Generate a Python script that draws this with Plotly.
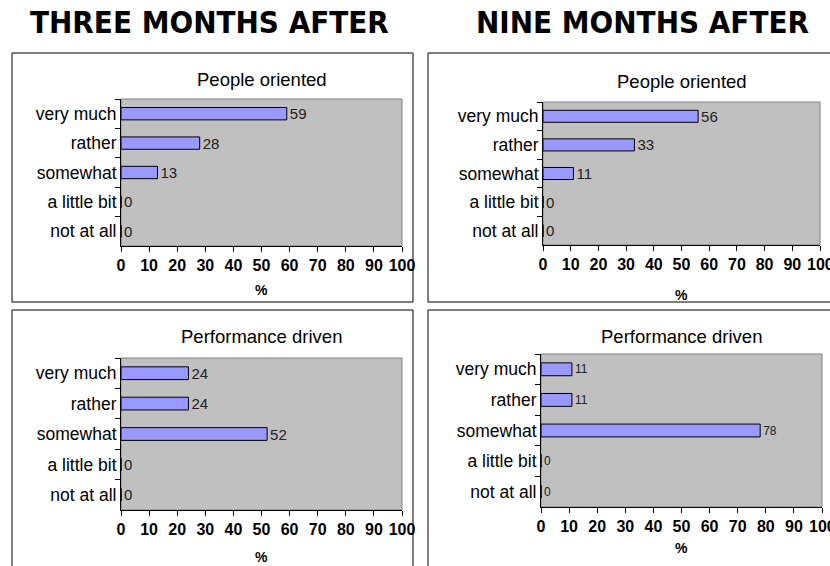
import plotly.graph_objects as go

W, H = 830, 566

categories = ["very much", "rather", "somewhat", "a little bit", "not at all"]
three_people = [59, 28, 13, 0, 0]
nine_people = [56, 33, 11, 0, 0]
three_perf = [24, 24, 52, 0, 0]
nine_perf = [11, 11, 78, 0, 0]
x_ticks = [0, 10, 20, 30, 40, 50, 60, 70, 80, 90, 100]
headings = ["THREE MONTHS AFTER", "NINE MONTHS AFTER"]
panel_titles = ["People oriented", "People oriented", "Performance driven", "Performance driven"]

FONT = "Liberation Sans, Arial, sans-serif"
HEAD_FONT = "DejaVu Sans Condensed, DejaVu Sans, sans-serif"

def px_x(v):
    return v / W

def px_y(v):
    return 1 - v / H

# plot areas in pixels: (x0, x1, ytop, ybottom)
areas = [
    (121, 402, 99, 246),
    (543, 820, 102, 245),
    (121, 402, 358, 510),
    (541, 822, 354, 507),
]
# panel boxes in pixels
boxes = [
    (12, 413, 53, 302),
    (428, 834, 53, 302),
    (12, 413, 310, 572),
    (428, 834, 310, 572),
]
title_y = [79, 81, 336, 336]
pct_y = [290, 295, 557, 548]
label_sizes = [15, 15, 15, 12]

series = [three_people, nine_people, three_perf, nine_perf]

fig = go.Figure()
layout = dict(
    width=W, height=H, autosize=False,
    margin=dict(l=0, r=0, t=0, b=0, pad=0, autoexpand=False),
    paper_bgcolor="white",
    plot_bgcolor="#C0C0C0",
    showlegend=False,
    bargap=0.58,
    font=dict(family=FONT, color="black"),
)
shapes = []
annotations = []

for i, vals in enumerate(series):
    n = i + 1
    xa = "x" if n == 1 else f"x{n}"
    ya = "y" if n == 1 else f"y{n}"
    fig.add_trace(go.Bar(
        x=vals, y=categories, orientation="h",
        xaxis=xa, yaxis=ya,
        marker=dict(color="#9999FF", line=dict(color="black", width=1)),
        text=[str(v) for v in vals], textposition="outside",
        constraintext="none",
        textfont=dict(family=FONT, size=label_sizes[i], color="#222222"),
        cliponaxis=False,
        hoverinfo="skip",
    ))
    x0, x1, yt, yb = areas[i]
    layout["xaxis" if n == 1 else f"xaxis{n}"] = dict(
        domain=[px_x(x0), px_x(x1)], anchor=ya, range=[0, 100],
        tickvals=x_ticks, ticks="outside", ticklen=5, tickcolor="black",
        showline=True, linecolor="black", linewidth=1,
        showgrid=False, zeroline=False, automargin=False,
        tickfont=dict(family=FONT, size=16, color="black", weight="bold"),
        fixedrange=True,
    )
    layout["yaxis" if n == 1 else f"yaxis{n}"] = dict(
        domain=[px_y(yb), px_y(yt)], anchor=xa,
        categoryorder="array", categoryarray=categories, autorange="reversed",
        ticks="outside", ticklen=5, tickcolor="black", tickson="boundaries",
        showline=True, linecolor="black", linewidth=1,
        showgrid=False, zeroline=False, automargin=False,
        tickfont=dict(family=FONT, size=17.5, color="black"),
        fixedrange=True,
    )
    # gray border of the plot area
    shapes.append(dict(type="rect", xref=f"{xa} domain", yref=f"{ya} domain",
                       x0=0, x1=1, y0=0, y1=1, line=dict(color="#808080", width=1),
                       layer="below"))
    bx0, bx1, by0, by1 = boxes[i]
    shapes.append(dict(type="rect", xref="paper", yref="paper",
                       x0=px_x(bx0), x1=px_x(bx1), y0=px_y(by1), y1=px_y(by0),
                       line=dict(color="black", width=1)))
    annotations.append(dict(text=panel_titles[i], xref="paper", yref="paper",
                            x=px_x((x0 + x1) / 2), y=px_y(title_y[i]),
                            showarrow=False, xanchor="center", yanchor="middle",
                            font=dict(family=FONT, size=18.5, color="black")))
    annotations.append(dict(text="%", xref="paper", yref="paper",
                            x=px_x((x0 + x1) / 2), y=px_y(pct_y[i]),
                            showarrow=False, xanchor="center", yanchor="middle",
                            font=dict(family=FONT, size=14, color="black", weight="bold")))
    # right-hand panels: the last tick label runs off the page edge (cut, as in the reference)
    if i in (1, 3):
        annotations.append(dict(text=str(x_ticks[-1]), xref=xa, yref="paper",
                                x=x_ticks[-1], y=px_y(yb + 19), showarrow=False,
                                xanchor="center", yanchor="middle",
                                font=dict(family=FONT, size=16, color="black", weight="bold")))

annotations.append(dict(text=headings[0], xref="paper", yref="paper",
                        x=px_x(210), y=px_y(22), showarrow=False,
                        xanchor="center", yanchor="middle",
                        font=dict(family=HEAD_FONT, size=31, color="black", weight="bold")))
annotations.append(dict(text=headings[1], xref="paper", yref="paper",
                        x=px_x(642), y=px_y(22), showarrow=False,
                        xanchor="center", yanchor="middle",
                        font=dict(family=HEAD_FONT, size=31, color="black", weight="bold")))

layout["shapes"] = shapes
layout["annotations"] = annotations
fig.update_layout(**layout)
fig.write_html("out.html",
               config={"displayModeBar": False, "staticPlot": True},
               post_script="document.body.style.margin='0';document.body.style.overflow='hidden';")
